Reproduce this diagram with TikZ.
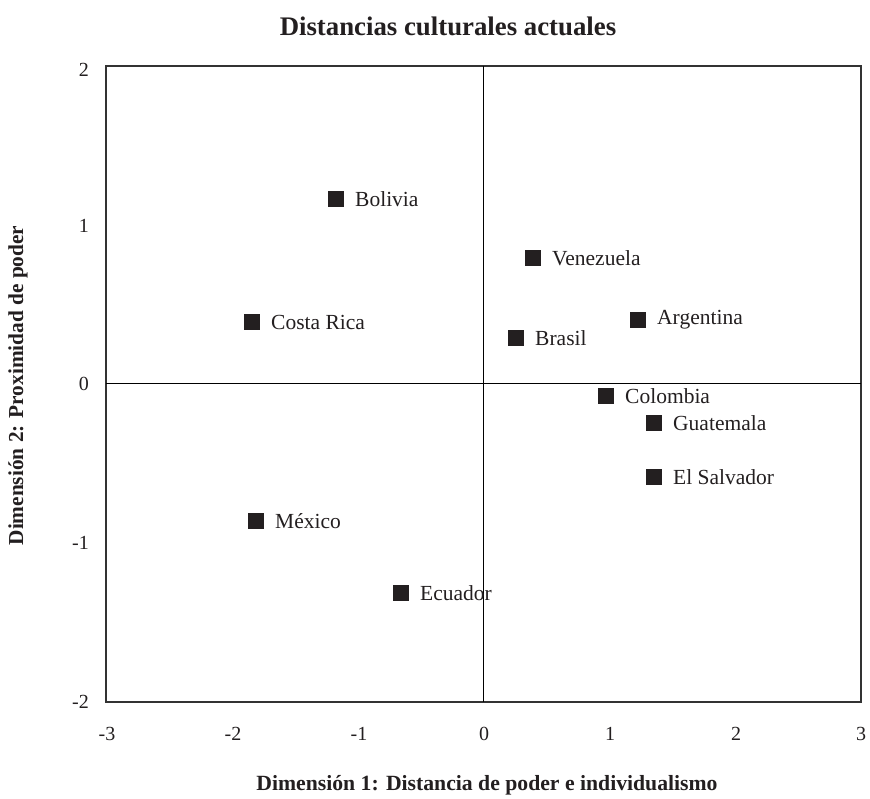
\documentclass[tikz,border=0pt]{standalone}
\usepackage{fontspec}
\setmainfont{Liberation Serif}
\definecolor{mk}{HTML}{231F20}
\begin{document}
\begin{tikzpicture}[x=1pt,y=-1pt,
  sqmark/.style={fill=mk,draw=none,minimum size=16pt,inner sep=0pt,outer sep=0pt,rectangle},
  lab/.style={anchor=west,font=\fontsize{21.5}{24}\selectfont,text=mk,inner sep=0pt},
  ticklab/.style={font=\fontsize{20}{22}\selectfont,text=mk,inner sep=0pt},
  axt/.style={font=\bfseries\fontsize{21.7}{26}\selectfont,text=mk,inner sep=0pt}]
\useasboundingbox (0,0) rectangle (870,799);
\fill[white] (0,0) rectangle (870,799);
\coordinate (tl) at (106,66);
\coordinate (br) at (861,702);
\draw[line width=1.4pt,draw=black!80] (tl) rectangle (br);
\coordinate (xa) at (106,384);
\coordinate (xb) at (861,384);
\coordinate (ya) at (483.5,66);
\coordinate (yb) at (483.5,702);
\draw[line width=1pt] (xa) -- (xb);
\draw[line width=1pt] (ya) -- (yb);
% title
\node[font=\bfseries\fontsize{26.8}{32}\selectfont,text=mk] (title) at (448,26) {Distancias culturales actuales};
% ticks y
\node[ticklab,anchor=east] (y2) at (89,70) {2};
\node[ticklab,anchor=east] (y1) at (89,226) {1};
\node[ticklab,anchor=east] (y0) at (89,384) {0};
\node[ticklab,anchor=east] (ym1) at (89,543) {-1};
\node[ticklab,anchor=east] (ym2) at (89,702) {-2};
% ticks x
\node[ticklab] (xm3) at (107,734) {-3};
\node[ticklab] (xm2) at (233,734) {-2};
\node[ticklab] (xm1) at (359,734) {-1};
\node[ticklab] (x0) at (484,734) {0};
\node[ticklab] (x1) at (610,734) {1};
\node[ticklab] (x2) at (736,734) {2};
\node[ticklab] (x3) at (861,734) {3};
% axis titles
\node[axt] (xt) at (487,785) {Dimensión 1: Distancia de poder e individualismo};
\node[axt,rotate=90,font=\bfseries\fontsize{21.3}{26}\selectfont] (yt) at (18,385.5) {Dimensión 2: Proximidad de poder};
% points
\node[sqmark] (bo) at (336,199) {};
\node[lab] at ([xshift=19pt]bo.center) {Bolivia};
\node[sqmark] (ve) at (533,258) {};
\node[lab] at ([xshift=19pt]ve.center) {Venezuela};
\node[sqmark] (cr) at (252,322) {};
\node[lab] at ([xshift=19pt]cr.center) {Costa Rica};
\node[sqmark] (ar) at (638,320) {};
\node[lab] at ([xshift=19pt]ar.center) {Argentina};
\node[sqmark] (br2) at (516,338) {};
\node[lab] at ([xshift=19pt]br2.center) {Brasil};
\node[sqmark] (co) at (606,396) {};
\node[lab] at ([xshift=19pt]co.center) {Colombia};
\node[sqmark] (gu) at (654,423) {};
\node[lab] at ([xshift=19pt]gu.center) {Guatemala};
\node[sqmark] (es) at (654,477) {};
\node[lab] at ([xshift=19pt]es.center) {El Salvador};
\node[sqmark] (me) at (256,521) {};
\node[lab] at ([xshift=19pt]me.center) {México};
\node[sqmark] (ec) at (401,593) {};
\node[lab] at ([xshift=19pt]ec.center) {Ecuador};
\end{tikzpicture}
\end{document}
